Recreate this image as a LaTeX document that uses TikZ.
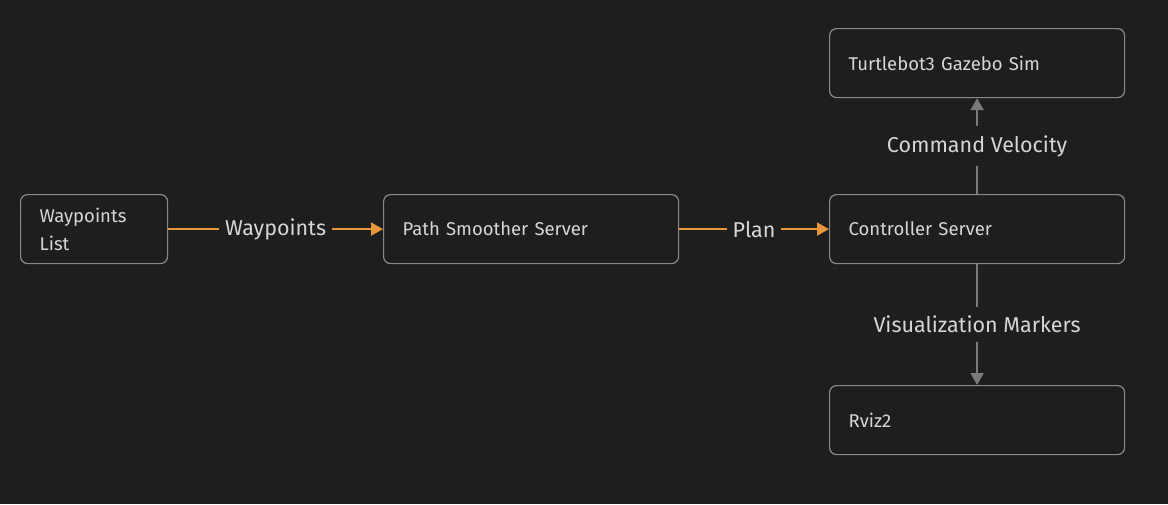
\documentclass[tikz,border=0pt]{standalone}
\usepackage{fontspec}
\setmainfont{Fira Sans}
\usetikzlibrary{arrows.meta}

\begin{document}
\begin{tikzpicture}[x=1pt,y=-1pt,
        box/.style={draw=frame,line width=1.2pt,rounded corners=7pt,fill=bg,text=ink,
            minimum height=69pt,inner xsep=19pt,anchor=north west,align=left,
            font=\fontsize{18.5}{28}\selectfont},
        lab/.style={fill=bg,text=ink,inner xsep=6pt,inner ysep=9pt,
            font=\fontsize{21.5}{24}\selectfont},
        flow/.style={draw=amber,line width=2pt,-{Triangle[length=12pt,width=13pt]}},
        feed/.style={draw=slate,line width=2pt,-{Triangle[length=12pt,width=13pt]}}]
            \definecolor{bg}{RGB}{30,30,30}
            \definecolor{dots}{RGB}{48,48,48}
            \definecolor{frame}{RGB}{138,138,138}
            \definecolor{ink}{RGB}{214,214,214}
            \definecolor{amber}{RGB}{232,150,58}
            \definecolor{slate}{RGB}{122,122,122}
            \fill[bg] (0,0) rectangle (1168,504);
            \useasboundingbox (0,0) rectangle (1168,504);
            \foreach \i in {0,...,47}{
                \foreach \j in {0,...,20}{
                    \fill[dots] (20+24*\i,4+24*\j) circle (0.9pt);
                }
            }
            % boxes
            \node[box,text width=109pt] (wplist) at (20,194) {Waypoints\\List};
            \node[box,text width=257pt] (smoother) at (383,194) {Path Smoother Server};
            \node[box,text width=257pt] (ctrl) at (829,194) {Controller Server};
            \node[box,text width=257pt] (gazebo) at (829,28) {Turtlebot3 Gazebo Sim};
            \node[box,text width=257pt] (rviz) at (829,385) {Rviz2};
            % links
            \draw[flow] (wplist) -- node[lab] {Waypoints} (smoother);
            \draw[flow] (smoother) -- node[lab] {Plan} (ctrl);
            \draw[feed] (ctrl) -- node[lab] {Command Velocity} (gazebo);
            \draw[feed] (ctrl) -- node[lab] {Visualization Markers} (rviz);
        \end{tikzpicture}
\end{document}
